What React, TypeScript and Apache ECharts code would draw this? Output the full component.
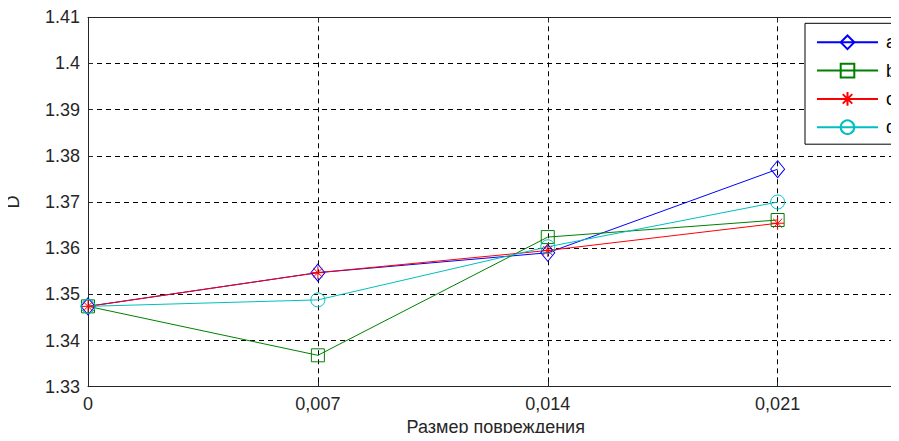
import React, { useEffect, useRef } from "react";
import * as echarts from "echarts";

const xValues = [0, 0.007, 0.014, 0.021];
const seriesA = [1.3474, 1.3547, 1.359, 1.3771];
const seriesB = [1.3474, 1.3368, 1.3624, 1.3661];
const seriesC = [1.3474, 1.3547, 1.3595, 1.3654];
const seriesD = [1.3474, 1.3488, 1.3603, 1.37];
const seriesNames = ["a", "b", "c", "d"];
const xAxisTitle = "Размер повреждения";
const yAxisTitle = "D";

const FONT = "'Liberation Sans', Arial, sans-serif";
const ASTERISK =
  "path://M5,0L5,10M0,5L10,5M1.5,1.5L8.5,8.5M1.5,8.5L8.5,1.5";

export default function App() {
  const ref = useRef<HTMLDivElement>(null);
  useEffect(() => {
    if (!ref.current) return;
    const chart = echarts.init(ref.current, null, { renderer: "svg" });
    const colors = ["#0000FF", "#008000", "#FF0000", "#00BFBF"];
    const symbols: any[] = ["diamond", "rect", ASTERISK, "circle"];
    const sizes: any[] = [[14, 17], 13, 13, 14];
    const data = [seriesA, seriesB, seriesC, seriesD];
    const splitLine = {
      show: true,
      lineStyle: { color: "#000", type: [5, 4], width: 1 },
    };
    chart.setOption({
      animation: false,
      backgroundColor: "#fff",
      textStyle: { fontFamily: FONT },
      grid: {
        left: 88,
        top: 17.3,
        width: 919.5,
        height: 369.4,
        containLabel: false,
        outerBoundsMode: "none",
      },
      xAxis: [
        {
          type: "value",
          min: 0,
          max: 0.028,
          interval: 0.007,
          name: xAxisTitle,
          nameLocation: "middle",
          nameGap: 29,
          nameTextStyle: {
            fontSize: 18,
            color: "#262626",
            fontFamily: FONT,
            padding: [0, 104, 0, 0],
          },
          axisLine: { show: true, lineStyle: { color: "#262626", width: 1 } },
          axisTick: { show: true, inside: true, length: 5, lineStyle: { color: "#262626" } },
          axisLabel: {
            fontSize: 18,
            color: "#262626",
            fontFamily: FONT,
            margin: 8,
            showMaxLabel: false,
            formatter: (v: number) => String(Number(v.toFixed(4))).replace(".", ","),
          },
          splitLine,
        },
        {
          type: "value",
          position: "top",
          min: 0,
          max: 0.028,
          interval: 0.007,
          axisLine: { show: true, lineStyle: { color: "#262626", width: 1 } },
          axisTick: { show: true, inside: true, length: 5, lineStyle: { color: "#262626" } },
          axisLabel: { show: false },
          splitLine: { show: false },
        },
      ],
      yAxis: {
        type: "value",
        min: 1.33,
        max: 1.41,
        interval: 0.01,
        name: yAxisTitle,
        nameLocation: "middle",
        nameGap: 66,
        nameTextStyle: { fontSize: 18, color: "#262626", fontFamily: FONT },
        axisLine: { show: true, lineStyle: { color: "#262626", width: 1 } },
        axisTick: { show: true, inside: true, length: 5, lineStyle: { color: "#262626" } },
        axisLabel: {
          fontSize: 18,
          color: "#262626",
          fontFamily: FONT,
          margin: 8,
          formatter: (v: number) => String(Number(v.toFixed(4))),
        },
        splitLine,
      },
      legend: {
        orient: "vertical",
        left: 805,
        top: 23.3,
        padding: [10, 30, 8, 11],
        itemWidth: 61,
        itemHeight: 17,
        itemGap: 10.3,
        borderColor: "#000",
        borderWidth: 1,
        backgroundColor: "#fff",
        textStyle: { fontSize: 18, color: "#000", fontFamily: FONT, padding: [0, 0, 0, 3] },
        data: seriesNames,
      },
      series: seriesNames.map((name, i) => ({
        name,
        type: "line",
        data: xValues.map((x, j) => [x, data[i][j]]),
        symbol: symbols[i],
        symbolSize: sizes[i],
        showAllSymbol: true,
        lineStyle: { color: colors[i], width: 1 },
        itemStyle: {
          color: i === 2 ? colors[i] : "rgba(0,0,0,0)",
          borderColor: colors[i],
          borderWidth: 1,
        },
        emphasis: { disabled: true },
      })),
    });
    return () => chart.dispose();
  }, []);
  return <div ref={ref} style={{ width: 899, height: 441, margin: -8 }} />;
}
